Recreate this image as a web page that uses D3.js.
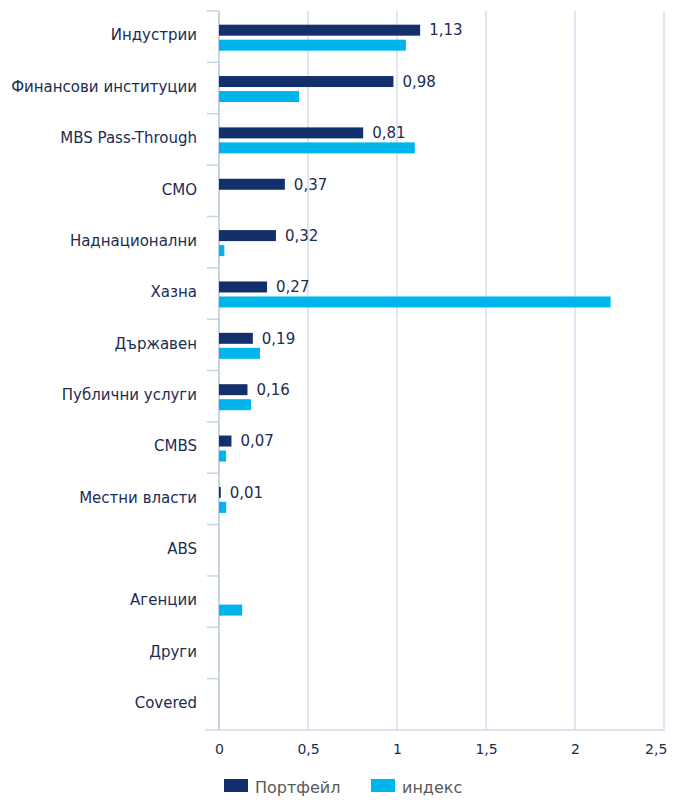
<!DOCTYPE html>
<html>
<head>
<meta charset="utf-8">
<script src="https://cdn.jsdelivr.net/npm/d3@7"></script>
<style>
  body { margin: 0; background: #fff; }
  svg { font-family: "DejaVu Sans", Verdana, sans-serif; }
</style>
</head>
<body>
<svg id="mainsvg" width="681" height="800"></svg>
<script>
const categories = ['Индустрии', 'Финансови институции', 'MBS Pass-Through', 'CMO', 'Наднационални',
  'Хазна', 'Държавен', 'Публични услуги', 'CMBS', 'Местни власти', 'ABS', 'Агенции', 'Други', 'Covered'];
const portfolio = [1.13, 0.98, 0.81, 0.37, 0.32, 0.27, 0.19, 0.16, 0.07, 0.01, 0, 0, 0, 0];
const indexVals = [1.05, 0.45, 1.10, 0, 0.03, 2.20, 0.23, 0.18, 0.04, 0.04, 0, 0.13, 0, 0];
const xTicks = [0, 0.5, 1, 1.5, 2, 2.5];
const seriesNames = ['Портфейл', 'индекс'];

const svg = d3.select('#mainsvg');
const margin = {top: 11, right: 17, bottom: 70, left: 219};
const width = +svg.attr('width');
const height = +svg.attr('height');
const innerWidth = width - margin.left - margin.right;
const innerHeight = height - margin.top - margin.bottom;
const navy = '#13306b', cyan = '#00b5ec', textColor = '#1c2c52';
const font = '"DejaVu Sans", Verdana, sans-serif';

const g = svg.append('g').attr('transform', `translate(${margin.left}, ${margin.top})`);

const xScale = d3.scaleLinear().domain([0, 2.5]).range([0, 445]);
const yScale = d3.scaleBand().domain(categories).range([0, innerHeight]);

// grid
g.selectAll('.grid').data(xTicks.slice(1)).join('line')
  .attr('x1', d => xScale(d)).attr('x2', d => xScale(d))
  .attr('y1', 0).attr('y2', innerHeight)
  .attr('stroke', '#d0d8ea').attr('stroke-width', 1.3);

// bottom axis line
g.append('line').attr('x1', -14).attr('x2', xScale(2.5) + 1)
  .attr('y1', innerHeight).attr('y2', innerHeight)
  .attr('stroke', '#d0d8ea').attr('stroke-width', 1.3);

// left axis
const yAxis = g.append('g')
  .call(d3.axisLeft(yScale).tickSize(0).tickPadding(22));
yAxis.select('.domain').remove();
yAxis.selectAll('text').attr('fill', textColor).attr('dy', '0.25em')
  .style('font-size', '15px').style('font-family', font);
g.append('line').attr('x1', 0).attr('x2', 0).attr('y1', 0).attr('y2', innerHeight)
  .attr('stroke', '#c9d3e6').attr('stroke-width', 2);
g.selectAll('.ytick').data(d3.range(categories.length)).join('line')
  .attr('x1', -12).attr('x2', 0)
  .attr('y1', d => d * yScale.step()).attr('y2', d => d * yScale.step())
  .attr('stroke', '#c9d3e6').attr('stroke-width', 1.5);

// x axis labels
const xAxis = g.append('g').attr('transform', `translate(0, ${innerHeight})`)
  .call(d3.axisBottom(xScale).tickValues(xTicks).tickSize(0).tickPadding(14)
    .tickFormat(d => String(d).replace('.', ',')));
xAxis.select('.domain').remove();
xAxis.selectAll('text').attr('fill', textColor)
  .style('font-size', '14px').style('font-family', font);
xAxis.selectAll('text').filter(d => d === 2.5).attr('text-anchor', 'end').attr('dx', '0.2em');

// bars
const barH = 11, gap = 4;
const mid = c => yScale(c) + yScale.bandwidth() / 2;
g.selectAll('.bar-p').data(categories).join('rect')
  .attr('x', 0).attr('y', c => mid(c) - barH - gap / 2 + 1)
  .attr('width', (c, i) => xScale(portfolio[i])).attr('height', barH)
  .attr('fill', navy);
g.selectAll('.bar-i').data(categories).join('rect')
  .attr('x', 0).attr('y', c => mid(c) + gap / 2 + 1)
  .attr('width', (c, i) => xScale(indexVals[i])).attr('height', barH)
  .attr('fill', cyan);

// value labels
g.selectAll('.val').data(categories.filter((c, i) => portfolio[i] > 0)).join('text')
  .attr('x', c => xScale(portfolio[categories.indexOf(c)]) + 9)
  .attr('y', c => mid(c) - barH / 2 - gap / 2 + 1)
  .attr('dy', '0.35em')
  .attr('fill', textColor).style('font-size', '15px')
  .text(c => portfolio[categories.indexOf(c)].toFixed(2).replace('.', ','));

// legend
const legend = svg.append('g').attr('transform', 'translate(224, 779)');
const items = legend.selectAll('g').data(seriesNames).join('g')
  .attr('transform', (d, i) => `translate(${i * 147}, 0)`);
items.append('rect').attr('width', 24).attr('height', 13)
  .attr('fill', (d, i) => i === 0 ? navy : cyan);
items.append('text').attr('x', 31).attr('y', 8).attr('dy', '0.35em')
  .attr('fill', '#595959').style('font-size', '16px').text(d => d);
</script>
</body>
</html>
